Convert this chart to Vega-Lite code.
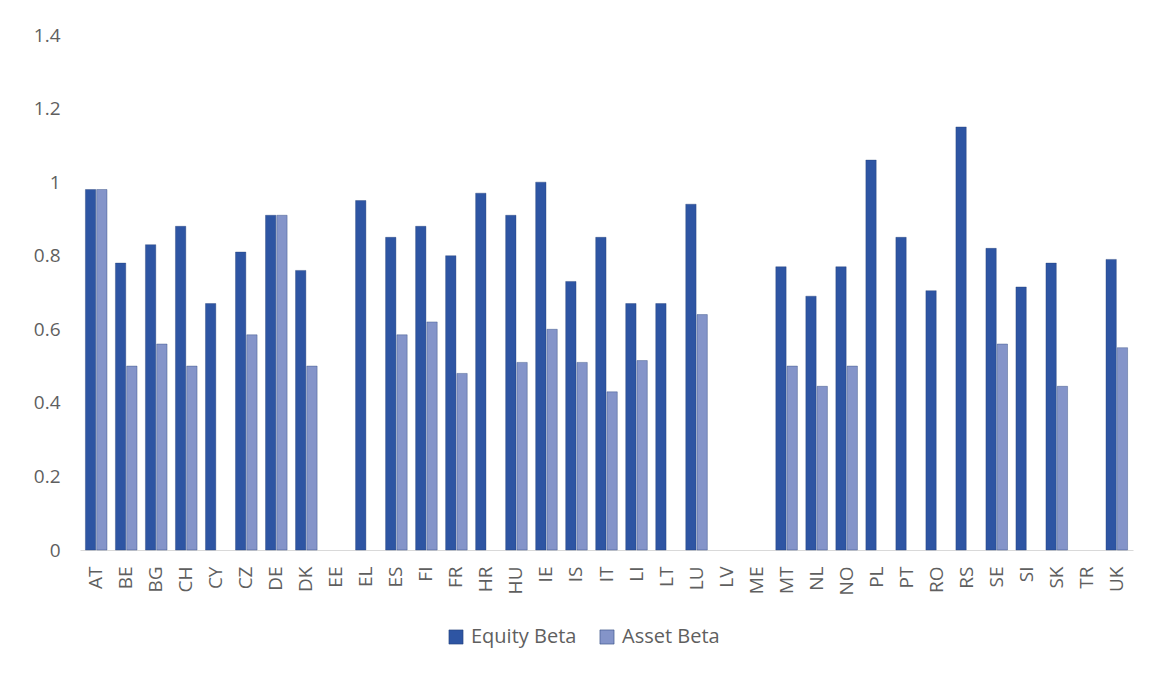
{
  "$schema": "https://vega.github.io/schema/vega-lite/v6.json",
  "autosize": {"type": "none"},
  "width": 1053,
  "height": 515,
  "padding": {"left": 80, "top": 35, "right": 16, "bottom": 123},
  "background": "white",
  "config": {
    "view": {"stroke": null},
    "font": "Open Sans",
    "axis": {"labelFont": "Open Sans", "labelColor": "#5f5f5f", "labelFontSize": 19},
    "legend": {"labelFont": "Open Sans", "labelColor": "#5f5f5f", "labelFontSize": 20}
  },
  "data": {
    "values": [
      {"country": "AT", "series": "Equity Beta", "beta": 0.98},
      {"country": "AT", "series": "Asset Beta", "beta": 0.98},
      {"country": "BE", "series": "Equity Beta", "beta": 0.78},
      {"country": "BE", "series": "Asset Beta", "beta": 0.50},
      {"country": "BG", "series": "Equity Beta", "beta": 0.83},
      {"country": "BG", "series": "Asset Beta", "beta": 0.56},
      {"country": "CH", "series": "Equity Beta", "beta": 0.88},
      {"country": "CH", "series": "Asset Beta", "beta": 0.50},
      {"country": "CY", "series": "Equity Beta", "beta": 0.67},
      {"country": "CZ", "series": "Equity Beta", "beta": 0.81},
      {"country": "CZ", "series": "Asset Beta", "beta": 0.585},
      {"country": "DE", "series": "Equity Beta", "beta": 0.91},
      {"country": "DE", "series": "Asset Beta", "beta": 0.91},
      {"country": "DK", "series": "Equity Beta", "beta": 0.76},
      {"country": "DK", "series": "Asset Beta", "beta": 0.50},
      {"country": "EL", "series": "Equity Beta", "beta": 0.95},
      {"country": "ES", "series": "Equity Beta", "beta": 0.85},
      {"country": "ES", "series": "Asset Beta", "beta": 0.585},
      {"country": "FI", "series": "Equity Beta", "beta": 0.88},
      {"country": "FI", "series": "Asset Beta", "beta": 0.62},
      {"country": "FR", "series": "Equity Beta", "beta": 0.80},
      {"country": "FR", "series": "Asset Beta", "beta": 0.48},
      {"country": "HR", "series": "Equity Beta", "beta": 0.97},
      {"country": "HU", "series": "Equity Beta", "beta": 0.91},
      {"country": "HU", "series": "Asset Beta", "beta": 0.51},
      {"country": "IE", "series": "Equity Beta", "beta": 1.0},
      {"country": "IE", "series": "Asset Beta", "beta": 0.60},
      {"country": "IS", "series": "Equity Beta", "beta": 0.73},
      {"country": "IS", "series": "Asset Beta", "beta": 0.51},
      {"country": "IT", "series": "Equity Beta", "beta": 0.85},
      {"country": "IT", "series": "Asset Beta", "beta": 0.43},
      {"country": "LI", "series": "Equity Beta", "beta": 0.67},
      {"country": "LI", "series": "Asset Beta", "beta": 0.515},
      {"country": "LT", "series": "Equity Beta", "beta": 0.67},
      {"country": "LU", "series": "Equity Beta", "beta": 0.94},
      {"country": "LU", "series": "Asset Beta", "beta": 0.64},
      {"country": "MT", "series": "Equity Beta", "beta": 0.77},
      {"country": "MT", "series": "Asset Beta", "beta": 0.50},
      {"country": "NL", "series": "Equity Beta", "beta": 0.69},
      {"country": "NL", "series": "Asset Beta", "beta": 0.445},
      {"country": "NO", "series": "Equity Beta", "beta": 0.77},
      {"country": "NO", "series": "Asset Beta", "beta": 0.50},
      {"country": "PL", "series": "Equity Beta", "beta": 1.06},
      {"country": "PT", "series": "Equity Beta", "beta": 0.85},
      {"country": "RO", "series": "Equity Beta", "beta": 0.705},
      {"country": "RS", "series": "Equity Beta", "beta": 1.15},
      {"country": "SE", "series": "Equity Beta", "beta": 0.82},
      {"country": "SE", "series": "Asset Beta", "beta": 0.56},
      {"country": "SI", "series": "Equity Beta", "beta": 0.715},
      {"country": "SK", "series": "Equity Beta", "beta": 0.78},
      {"country": "SK", "series": "Asset Beta", "beta": 0.445},
      {"country": "UK", "series": "Equity Beta", "beta": 0.79},
      {"country": "UK", "series": "Asset Beta", "beta": 0.55}
    ]
  },
  "mark": {"type": "bar", "stroke": "#1f3b73", "strokeWidth": 0.6, "strokeOpacity": 0.6},
  "encoding": {
    "x": {
      "field": "country",
      "type": "nominal",
      "scale": {
        "domain": ["AT","BE","BG","CH","CY","CZ","DE","DK","EE","EL","ES","FI","FR","HR","HU","IE","IS","IT","LI","LT","LU","LV","ME","MT","NL","NO","PL","PT","RO","RS","SE","SI","SK","TR","UK"],
        "paddingInner": 0.28,
        "paddingOuter": 0.18
      },
      "axis": {
        "title": null,
        "labelAngle": -90,
        "labelPadding": 16,
        "ticks": false,
        "domainColor": "#d9d9d9",
        "domainWidth": 1.2
      }
    },
    "xOffset": {
      "field": "series",
      "type": "nominal",
      "scale": {"domain": ["Equity Beta", "Asset Beta"], "paddingInner": 0.08}
    },
    "y": {
      "field": "beta",
      "type": "quantitative",
      "scale": {"domain": [0, 1.4]},
      "axis": {
        "title": null,
        "values": [0, 0.2, 0.4, 0.6, 0.8, 1, 1.2, 1.4],
        "format": ".1~f",
        "grid": false,
        "domain": false,
        "ticks": false,
        "labelPadding": 20
      }
    },
    "color": {
      "field": "series",
      "type": "nominal",
      "scale": {"domain": ["Equity Beta", "Asset Beta"], "range": ["#2e55a3", "#8494c9"]},
      "legend": {
        "title": null,
        "orient": "none",
        "legendX": 366,
        "legendY": 592,
        "direction": "horizontal",
        "symbolType": "square",
        "symbolSize": 200,
        "symbolStrokeColor": "#1f3b73",
        "symbolStrokeWidth": 0.5,
        "columnPadding": 20,
        "labelOffset": 5
      }
    }
  }
}
